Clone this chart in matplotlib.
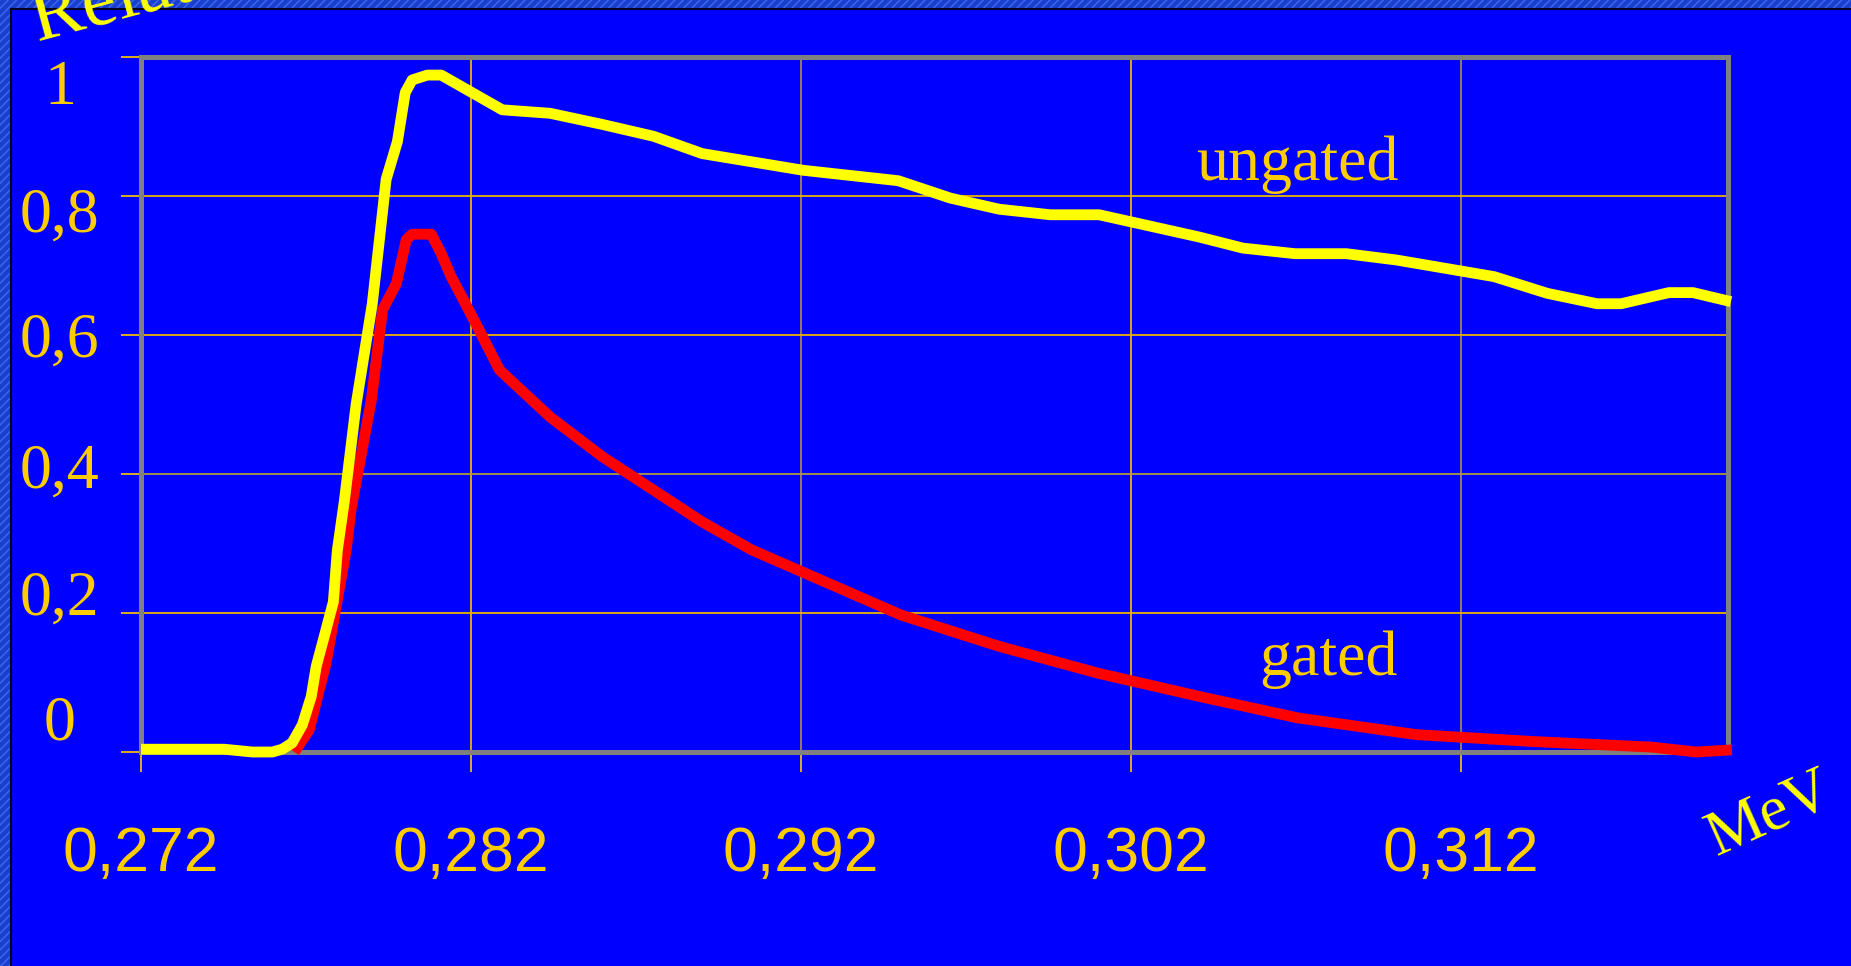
import matplotlib
matplotlib.use('Agg')
import matplotlib.pyplot as plt
from matplotlib.patches import Rectangle
from matplotlib.lines import Line2D
from matplotlib.transforms import ScaledTranslation

# energy (MeV) and relative intensity
ungated_x = [0.27200, 0.27452, 0.27537, 0.27598, 0.27628, 0.27658, 0.27689, 0.27716,
             0.27731, 0.27758, 0.27783, 0.27795, 0.27816, 0.27852, 0.27901, 0.27943,
             0.27977, 0.28001, 0.28022, 0.28068, 0.28110, 0.28295, 0.28440, 0.28598,
             0.28753, 0.28901, 0.29207, 0.29495, 0.29653, 0.29801, 0.29956, 0.30104,
             0.30407, 0.30540, 0.30698, 0.30853, 0.31004, 0.31301, 0.31462, 0.31613,
             0.31686, 0.31831, 0.31904, 0.32019]
ungated_y = [0.004, 0.004, 0.000, 0.000, 0.004, 0.013, 0.039, 0.080,
             0.123, 0.171, 0.216, 0.290, 0.360, 0.500, 0.645, 0.824,
             0.878, 0.949, 0.967, 0.974, 0.974, 0.924, 0.919, 0.903,
             0.886, 0.861, 0.837, 0.822, 0.797, 0.781, 0.773, 0.773,
             0.741, 0.725, 0.717, 0.717, 0.708, 0.684, 0.660, 0.645,
             0.645, 0.661, 0.661, 0.648]

gated_x = [0.27665, 0.27710, 0.27740, 0.27761, 0.27786, 0.27822, 0.27837, 0.27898,
           0.27932, 0.27974, 0.28004, 0.28022, 0.28080, 0.28110, 0.28140, 0.28180,
           0.28225, 0.28286, 0.28440, 0.28598, 0.28901, 0.29050, 0.29504, 0.29801,
           0.30104, 0.30407, 0.30707, 0.31065, 0.31422, 0.31780, 0.31913, 0.32022]
gated_y = [0.000, 0.032, 0.089, 0.128, 0.195, 0.291, 0.350, 0.506,
           0.636, 0.674, 0.737, 0.745, 0.745, 0.717, 0.684, 0.648,
           0.607, 0.550, 0.482, 0.425, 0.331, 0.291, 0.197, 0.152,
           0.113, 0.080, 0.049, 0.025, 0.015, 0.007, 0.000, 0.003]

x_ticks = [0.272, 0.282, 0.292, 0.302, 0.312]
x_labels = ['0,272', '0,282', '0,292', '0,302', '0,312']
y_ticks = [0, 0.2, 0.4, 0.6, 0.8, 1]
y_labels = ['0', '0,2', '0,4', '0,6', '0,8', '1']

BLUE = '#0000FF'
GOLD = '#FFCC00'
YELLOW = '#FFFF00'
GREY = '#808080'
SERIF = 'Liberation Serif'
SANS = 'Liberation Sans'

fig = plt.figure(figsize=(18.51, 9.66), dpi=100, facecolor=BLUE)

# slide border strips (top and left)
fig.patches.append(Rectangle((0, 1 - 8 / 966), 1, 8 / 966, transform=fig.transFigure,
                             facecolor='#1a3fd0', edgecolor='#3f6ae8', hatch='////',
                             linewidth=0, zorder=0))
fig.patches.append(Rectangle((0, 0), 10 / 1851, 1, transform=fig.transFigure,
                             facecolor='#1a3fd0', edgecolor='#3f6ae8', hatch='////',
                             linewidth=0, zorder=0))
fig.lines.append(Line2D([10.5 / 1851, 1], [1 - 8.5 / 966, 1 - 8.5 / 966],
                        transform=fig.transFigure, color='#000022', lw=1.5))
fig.lines.append(Line2D([10.5 / 1851, 10.5 / 1851], [0, 1 - 8.5 / 966],
                        transform=fig.transFigure, color='#000022', lw=1.5))

ax = fig.add_axes([141 / 1851, 1 - 752 / 966, (1728 - 141) / 1851, (752 - 57) / 966])
ax.set_facecolor(BLUE)

ax.plot(gated_x, gated_y, color='#FF0000', lw=7.8, solid_joinstyle='round',
        solid_capstyle='butt', clip_on=False, zorder=3)
ax.plot(ungated_x, ungated_y, color=YELLOW, lw=7.8, solid_joinstyle='round',
        solid_capstyle='butt', clip_on=False, zorder=4)

ax.set_xlim(0.272, 0.3201)
ax.set_ylim(0, 1)
ax.set_xticks(x_ticks)
ax.set_xticklabels(x_labels, fontfamily=SANS, fontsize=45, color=GOLD)
ax.set_yticks(y_ticks)
ax.set_yticklabels(y_labels, fontfamily=SERIF, fontsize=46, color=GOLD, ha='center')
ax.tick_params(axis='both', direction='out', length=14.4, width=1.2, color=GOLD)
ax.tick_params(axis='x', pad=38)
ax.tick_params(axis='y', pad=44)

# on the slide the value labels sit evenly spaced, a bit squeezed vs the grid
shift_px = [-34, -20, -8, 0, 14, 25]
for lab, d in zip(ax.get_yticklabels(), shift_px):
    lab.set_transform(lab.get_transform() + ScaledTranslation(0, -d / 100, fig.dpi_scale_trans))

ax.grid(True, color='#E8B400', lw=1.3)
ax.set_axisbelow(True)
for i, gl in enumerate(ax.get_xgridlines()):
    if i in (2, 4):
        gl.set_color('#9a8a50')
for i, gl in enumerate(ax.get_ygridlines()):
    if i == 2:
        gl.set_color('#b09a40')

for s in ax.spines.values():
    s.set_color(GREY)
    s.set_linewidth(3.6)

ax.text(0.3101, 0.823, 'ungated', fontfamily=SERIF, fontsize=46, color=GOLD,
        ha='right', va='baseline')
ax.text(0.3101, 0.111, 'gated', fontfamily=SERIF, fontsize=46, color=GOLD,
        ha='right', va='baseline')

fig.text(1770 / 1851, 1 - 815 / 966, 'MeV', fontfamily=SERIF, fontsize=46,
         color=YELLOW, rotation=24, ha='center', va='center', rotation_mode='anchor')
fig.text(38 / 1851, 1 - 42 / 966, 'Relative intensity', fontfamily=SERIF, fontsize=56,
         color=YELLOW, rotation=15, ha='left', va='baseline', rotation_mode='anchor')

fig.savefig('out.png', dpi=100, facecolor=BLUE)
